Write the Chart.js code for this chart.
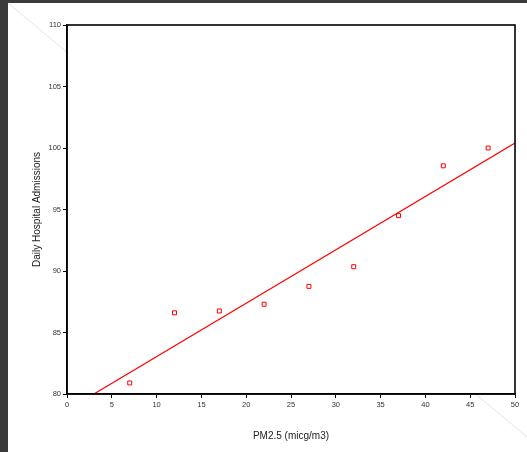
<!DOCTYPE html>
<html>
<head>
<meta charset="utf-8">
<script src="https://cdn.jsdelivr.net/npm/chart.js@4.4.0/dist/chart.umd.min.js"></script>
<style>
  html, body { margin: 0; padding: 0; background: #3a3a3a; }
  #wrap { width: 527px; height: 452px; }
</style>
</head>
<body>
<div id="wrap"><canvas id="pmChart" width="527" height="452"></canvas></div>
<script>
// PM2.5 concentration vs. daily admissions
var pm25 = [7, 12, 17, 22, 27, 32, 37, 42, 47];
var admissions = [80.9, 86.6, 86.75, 87.3, 88.75, 90.35, 94.5, 98.55, 100.0];

// fitted trend line, end points
var trendX = [3.0, 50];
var trendY = [80, 100.4];

var RED = 'rgb(255, 0, 0)';
var FONT = "'Liberation Sans', Arial, sans-serif";

var pagePlugin = {
  id: 'page',
  beforeDraw: function(chart) {
    var c = chart.ctx, a = chart.chartArea;
    c.save();
    c.fillStyle = '#3a3a3a';
    c.fillRect(0, 0, chart.width, chart.height);
    c.fillStyle = '#ffffff';
    c.fillRect(8, 3, chart.width - 8, chart.height - 3);
    // faint page diagonal
    c.strokeStyle = '#e4e4e4';
    c.lineWidth = 1;
    c.beginPath();
    c.moveTo(8, 3);
    c.lineTo(527, 437);
    c.stroke();
    c.fillStyle = '#ffffff';
    c.fillRect(a.left, a.top, a.right - a.left, a.bottom - a.top);
    c.restore();
  },
  afterDraw: function(chart) {
    var c = chart.ctx, a = chart.chartArea;
    c.save();
    c.strokeStyle = '#000';
    c.lineWidth = 1.6;
    c.strokeRect(a.left, a.top, a.right - a.left, a.bottom - a.top);
    c.restore();
  }
};

var ctx = document.getElementById('pmChart').getContext('2d');
var chart = new Chart(ctx, {
  type: 'scatter',
  data: {
    datasets: [{
      label: 'Admissions',
      data: pm25.map(function(x, i) { return { x: x, y: admissions[i] }; }),
      pointStyle: 'rect',
      pointRadius: 2.8,
      borderColor: RED,
      backgroundColor: 'rgba(0,0,0,0)',
      borderWidth: 1,
      clip: false
    }, {
      label: 'Fit',
      data: trendX.map(function(x, i) { return { x: x, y: trendY[i] }; }),
      showLine: true,
      pointRadius: 0,
      borderColor: RED,
      borderWidth: 1.2,
      fill: false
    }]
  },
  options: {
    responsive: false,
    animation: false,
    layout: { padding: { top: 25, right: 12, left: 0, bottom: 0 } },
    plugins: {
      legend: { display: false },
      tooltip: { enabled: false }
    },
    scales: {
      x: {
        type: 'linear',
        min: 0,
        max: 50,
        afterFit: function(scale) { scale.height = 58; },
        ticks: { stepSize: 5, padding: 2, color: '#333', font: { family: FONT, size: 7.5 } },
        grid: { display: true, drawOnChartArea: false, tickLength: 4, color: '#000' },
        border: { display: true, color: '#000', width: 1.6 },
        title: {
          display: true,
          text: 'PM2.5 (micg/m3)',
          color: '#222',
          font: { family: FONT, size: 10 },
          padding: { top: 0, bottom: 10 }
        }
      },
      y: {
        min: 80,
        max: 110,
        afterFit: function(scale) { scale.width = 67; },
        ticks: { stepSize: 5, padding: 2, color: '#333', font: { family: FONT, size: 7.5 } },
        grid: { display: true, drawOnChartArea: false, tickLength: 4, color: '#000' },
        border: { display: true, color: '#000', width: 1.6 },
        title: {
          display: true,
          text: 'Daily Hospital Admissions',
          color: '#222',
          font: { family: FONT, size: 10 },
          padding: { top: 31, bottom: 0 }
        }
      }
    }
  },
  plugins: [pagePlugin]
});
</script>
</body>
</html>
